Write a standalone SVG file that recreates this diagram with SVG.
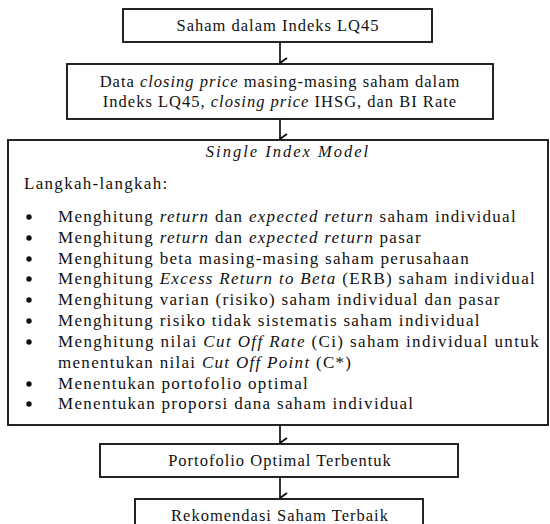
<svg xmlns="http://www.w3.org/2000/svg" width="550" height="524" viewBox="0 0 550 524">
<defs>
<style>
.box{fill:#fff;stroke:#1a1a1a;stroke-width:1.9}
.t{font-family:"Liberation Serif","Times New Roman",serif;fill:#111}
.bt{font-size:16.5px;letter-spacing:1px;text-anchor:middle}
.b{font-size:17px;letter-spacing:1.3px}
.ttl{font-size:16.5px;letter-spacing:2px;text-anchor:middle;font-style:italic}
.i{font-style:italic}
.conn{stroke:#111;stroke-width:1.7;fill:none}
.dot{fill:#111}
</style>
<marker id="ah" viewBox="0 0 12 10" refX="6" refY="9" markerWidth="12" markerHeight="10" markerUnits="userSpaceOnUse" orient="auto">
<path d="M1,2 L6,9 L11,2" fill="none" stroke="#111" stroke-width="1.9"/>
</marker>
</defs>
<rect width="550" height="524" fill="#fff"/>
<g id="connectors">
<line class="conn" x1="280" y1="42" x2="280" y2="63" marker-end="url(#ah)"/>
<line class="conn" x1="280" y1="119" x2="280" y2="139" marker-end="url(#ah)"/>
<line class="conn" x1="280" y1="425" x2="280" y2="443" marker-end="url(#ah)"/>
<line class="conn" x1="280" y1="477" x2="280" y2="498" marker-end="url(#ah)"/>
</g>
<g id="n1">
<rect class="box" x="123" y="9" width="309" height="33"/>
<text class="t bt" x="278" y="31">Saham dalam Indeks LQ45</text>
</g>
<g id="n2">
<rect class="box" x="67" y="64" width="426" height="55"/>
<text class="t bt" x="280" y="87">Data <tspan class="i">closing price</tspan> masing-masing saham dalam</text>
<text class="t bt" x="280" y="107">Indeks LQ45, <tspan class="i">closing price</tspan> IHSG, dan BI Rate</text>
</g>
<g id="n3">
<rect class="box" x="8" y="140" width="540" height="285"/>
<text class="t ttl" x="288" y="157">Single Index Model</text>
<text class="t b" x="24" y="189">Langkah-langkah:</text>
<circle class="dot" cx="29" cy="217" r="2.7"/>
<circle class="dot" cx="29" cy="238" r="2.7"/>
<circle class="dot" cx="29" cy="259" r="2.7"/>
<circle class="dot" cx="29" cy="279" r="2.7"/>
<circle class="dot" cx="29" cy="300" r="2.7"/>
<circle class="dot" cx="29" cy="321" r="2.7"/>
<circle class="dot" cx="29" cy="342" r="2.7"/>
<circle class="dot" cx="29" cy="384" r="2.7"/>
<circle class="dot" cx="29" cy="404" r="2.7"/>
<text class="t b" x="58" y="222">Menghitung <tspan class="i">return</tspan> dan <tspan class="i">expected return</tspan> saham individual</text>
<text class="t b" x="58" y="243">Menghitung <tspan class="i">return</tspan> dan <tspan class="i">expected return</tspan> pasar</text>
<text class="t b" x="58" y="264">Menghitung beta masing-masing saham perusahaan</text>
<text class="t b" x="58" y="284">Menghitung <tspan class="i">Excess Return to Beta</tspan> (ERB) saham individual</text>
<text class="t b" x="58" y="305">Menghitung varian (risiko) saham individual dan pasar</text>
<text class="t b" x="58" y="326">Menghitung risiko tidak sistematis saham individual</text>
<text class="t b" x="58" y="347" textLength="482" lengthAdjust="spacing">Menghitung nilai <tspan class="i">Cut Off Rate</tspan> (Ci) saham individual untuk</text>
<text class="t b" x="58" y="368">menentukan nilai <tspan class="i">Cut Off Point</tspan> (C*)</text>
<text class="t b" x="58" y="389">Menentukan portofolio optimal</text>
<text class="t b" x="58" y="409">Menentukan proporsi dana saham individual</text>
</g>
<g id="n4">
<rect class="box" x="100" y="444" width="358" height="33"/>
<text class="t bt" x="280" y="466">Portofolio Optimal Terbentuk</text>
</g>
<g id="n5">
<rect class="box" x="135" y="499" width="288" height="35"/>
<text class="t bt" x="280" y="521">Rekomendasi Saham Terbaik</text>
</g>
</svg>
